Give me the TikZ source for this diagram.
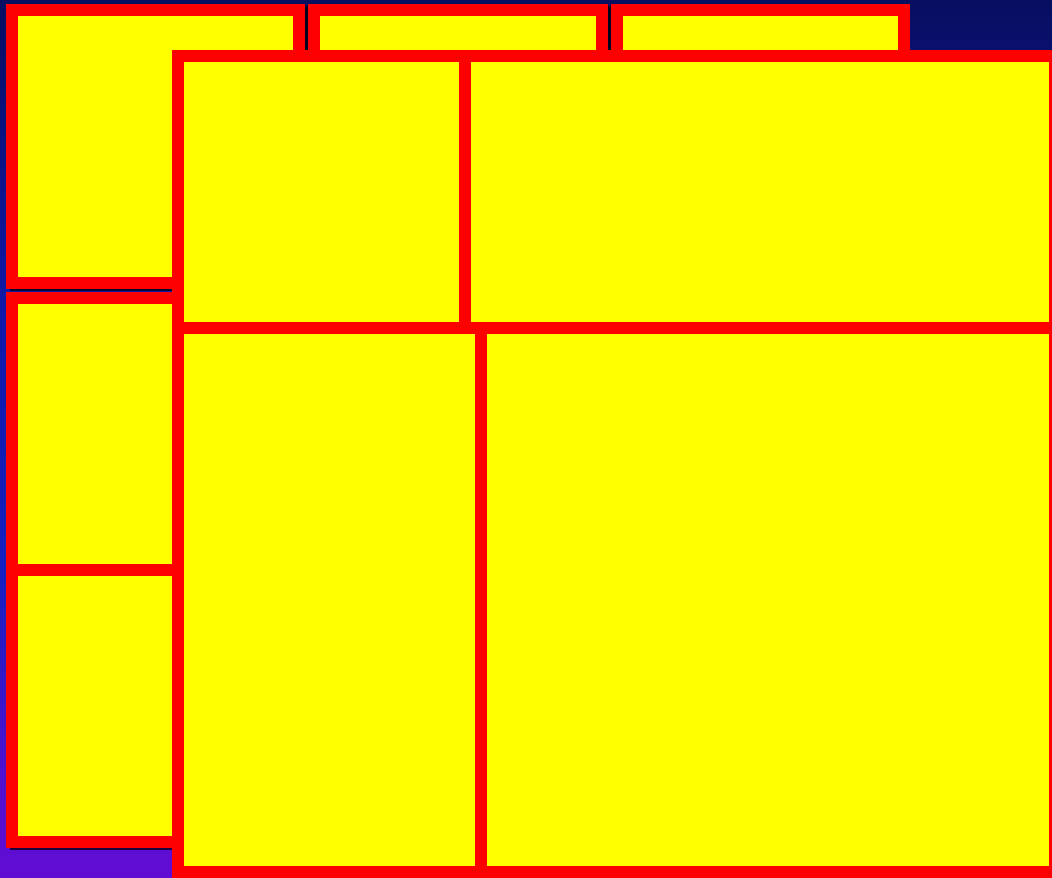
\documentclass[tikz,border=0pt]{standalone}
\definecolor{boxred}{RGB}{255,0,0}
\definecolor{boxyellow}{RGB}{255,255,0}
\definecolor{bgtop}{RGB}{8,14,96}
\definecolor{bgmidA}{RGB}{16,24,168}
\definecolor{bgmidB}{RGB}{20,32,192}
\definecolor{bglow}{RGB}{80,16,208}
\definecolor{bgbottom}{RGB}{98,12,210}
\pgfdeclareverticalshading{bgshade}{100bp}{%
  color(0bp)=(bgbottom); color(25bp)=(bgbottom); color(30.6bp)=(bglow);
  color(42.5bp)=(bgmidB); color(57.9bp)=(bgmidA); color(75bp)=(bgtop); color(100bp)=(bgtop)}
\begin{document}
\begin{tikzpicture}[x=1pt,y=-1pt,
  panel/.style={draw=boxred,fill=boxyellow,line width=12pt},
  divider/.style={draw=boxred,line width=12pt},
  panelshadow/.style={draw=black,fill=black,line width=12pt,opacity=.7,shift={(4,2)}}]
\useasboundingbox (0,0) rectangle (1052,878);
\clip (0,0) rectangle (1052,878);
\shade[shading=bgshade] (0,0) rectangle (1052,878);
% shadows of back panels
\path[panelshadow] (12,10) rectangle (299,283);
\path[panelshadow] (314,10) rectangle (601.7,283);
\path[panelshadow] (12,297.5) rectangle (299,842);
% back panels, top row
\path[panel] (12,10) rectangle (299,283);
\path[panel] (314,10) rectangle (601.7,283);
\path[panel] (617,10) rectangle (904,283);
% back panel, left column
\path[panel] (12,297.5) rectangle (299,842);
\path[divider] (12,570) -- (299,570);
% front panel
\path[panel] (178,56) rectangle (1055,872);
\path[divider] (465,56) -- (465,328);
\path[divider] (178,328) -- (1055,328);
\path[divider] (480.5,328) -- (480.5,872);
\end{tikzpicture}
\end{document}
